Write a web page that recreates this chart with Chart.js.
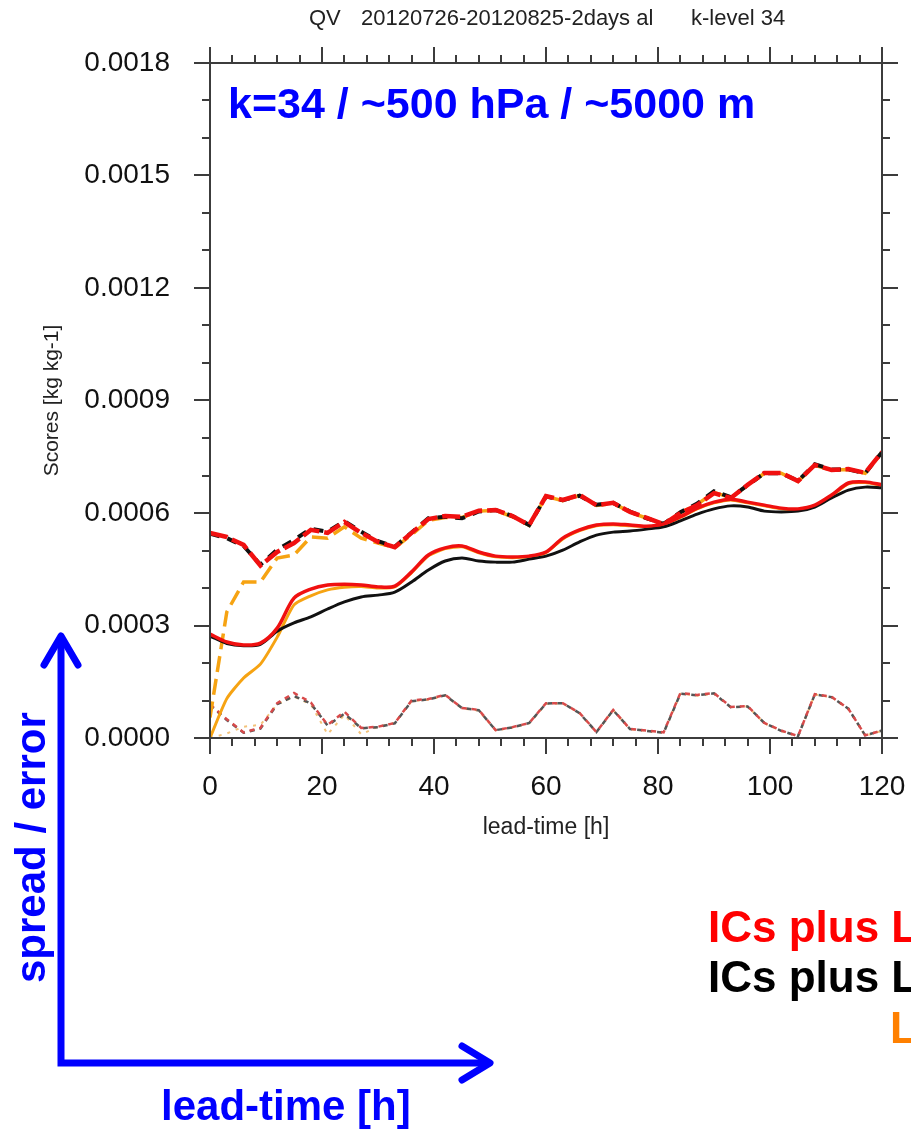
<!DOCTYPE html>
<html>
<head>
<meta charset="utf-8">
<title>QV scores k-level 34</title>
<script src="https://cdn.jsdelivr.net/npm/chart.js@4.4.1/dist/chart.umd.min.js"></script>
<style>
  html, body { margin: 0; padding: 0; background: #fff; }
  body { width: 911px; height: 1133px; overflow: hidden; position: relative; font-family: "Liberation Sans", Arial, sans-serif; }
  #scores { position: absolute; left: 0; top: 0; }
  .txt { position: absolute; white-space: nowrap; line-height: 1; }
  .head { font-size: 22px; color: #222; top: 7px; }
  .blue { color: #0000ff; font-weight: bold; font-size: 42px; }
  .legend { font-weight: bold; font-size: 44px; }
</style>
</head>
<body>
<canvas id="scores" width="911" height="1133"></canvas>

<div class="txt head" style="left:309px">QV</div>
<div class="txt head" style="left:361px">20120726-20120825-2days al</div>
<div class="txt head" style="left:691px">k-level 34</div>

<div class="txt blue" style="left:228px; top:82px; font-size:43px">k=34 / ~500 hPa / ~5000 m</div>
<div class="txt blue" style="left:161px; top:1085px">lead-time [h]</div>
<div class="txt blue" style="left:10px; top:983px; transform-origin:0 0; transform:rotate(-90deg)">spread / error</div>

<div class="txt legend" style="left:708px; top:905px; color:#ff0000">ICs plus L</div>
<div class="txt legend" style="left:708px; top:955px; color:#000">ICs plus L</div>
<div class="txt legend" style="left:890px; top:1006px; color:#ff8000">L</div>

<script>
// lead times in hours
const leadTimes = [0, 3, 6, 9, 12, 15, 18, 21, 24, 27, 30, 33, 36, 39, 42, 45, 48, 51, 54, 57, 60,
  63, 66, 69, 72, 75, 78, 81, 84, 87, 90, 93, 96, 99, 102, 105, 108, 111, 114, 117, 120];

// error (long dashed)
const errorRed = [5.47e-4, 5.36e-4, 5.15e-4, 4.60e-4, 4.96e-4, 5.20e-4, 5.55e-4, 5.47e-4, 5.76e-4, 5.47e-4,
  5.23e-4, 5.09e-4, 5.47e-4, 5.84e-4, 5.92e-4, 5.90e-4, 6.06e-4, 6.08e-4, 5.92e-4, 5.68e-4, 6.45e-4,
  6.35e-4, 6.48e-4, 6.21e-4, 6.27e-4, 6.03e-4, 5.87e-4, 5.70e-4, 6.00e-4, 6.21e-4, 6.53e-4, 6.40e-4,
  6.75e-4, 7.07e-4, 7.07e-4, 6.85e-4, 7.28e-4, 7.15e-4, 7.17e-4, 7.07e-4, 7.63e-4];
const errorBlack = [5.45e-4, 5.33e-4, 5.12e-4, 4.62e-4, 5.02e-4, 5.28e-4, 5.58e-4, 5.50e-4, 5.78e-4, 5.50e-4,
  5.25e-4, 5.10e-4, 5.48e-4, 5.86e-4, 5.90e-4, 5.86e-4, 6.04e-4, 6.08e-4, 5.92e-4, 5.68e-4, 6.44e-4,
  6.34e-4, 6.46e-4, 6.22e-4, 6.27e-4, 6.04e-4, 5.86e-4, 5.71e-4, 6.02e-4, 6.25e-4, 6.58e-4, 6.42e-4,
  6.74e-4, 7.06e-4, 7.06e-4, 6.86e-4, 7.30e-4, 7.16e-4, 7.16e-4, 7.06e-4, 7.62e-4];
const errorOrange = [0.55e-4, 3.36e-4, 4.16e-4, 4.16e-4, 4.80e-4, 4.88e-4, 5.36e-4, 5.33e-4, 5.63e-4, 5.33e-4,
  5.20e-4, 5.07e-4, 5.42e-4, 5.80e-4, 5.88e-4, 5.88e-4, 6.05e-4, 6.07e-4, 5.90e-4, 5.67e-4, 6.44e-4,
  6.33e-4, 6.47e-4, 6.20e-4, 6.26e-4, 6.02e-4, 5.86e-4, 5.70e-4, 6.01e-4, 6.23e-4, 6.55e-4, 6.41e-4,
  6.74e-4, 7.06e-4, 7.06e-4, 6.84e-4, 7.27e-4, 7.14e-4, 7.16e-4, 7.06e-4, 7.62e-4];

// spread (solid)
const spreadRed = [2.77e-4, 2.56e-4, 2.48e-4, 2.53e-4, 2.93e-4, 3.73e-4, 3.97e-4, 4.08e-4, 4.10e-4, 4.08e-4,
  4.03e-4, 4.05e-4, 4.43e-4, 4.88e-4, 5.07e-4, 5.12e-4, 4.96e-4, 4.85e-4, 4.83e-4, 4.85e-4, 4.96e-4,
  5.33e-4, 5.55e-4, 5.68e-4, 5.71e-4, 5.68e-4, 5.65e-4, 5.71e-4, 5.90e-4, 6.13e-4, 6.29e-4, 6.37e-4,
  6.29e-4, 6.21e-4, 6.13e-4, 6.11e-4, 6.21e-4, 6.48e-4, 6.80e-4, 6.83e-4, 6.75e-4];
const spreadBlack = [2.72e-4, 2.52e-4, 2.46e-4, 2.50e-4, 2.85e-4, 3.07e-4, 3.23e-4, 3.44e-4, 3.63e-4, 3.76e-4,
  3.81e-4, 3.89e-4, 4.16e-4, 4.48e-4, 4.72e-4, 4.80e-4, 4.72e-4, 4.69e-4, 4.69e-4, 4.77e-4, 4.85e-4,
  5.01e-4, 5.23e-4, 5.41e-4, 5.49e-4, 5.52e-4, 5.57e-4, 5.63e-4, 5.79e-4, 5.97e-4, 6.11e-4, 6.19e-4,
  6.16e-4, 6.05e-4, 6.03e-4, 6.05e-4, 6.16e-4, 6.40e-4, 6.61e-4, 6.69e-4, 6.67e-4];
const spreadOrange = [0, 1.05e-4, 1.60e-4, 1.97e-4, 2.69e-4, 3.55e-4, 3.79e-4, 3.95e-4, 4.02e-4, 4.04e-4,
  4.00e-4, 4.03e-4, 4.41e-4, 4.86e-4, 5.05e-4, 5.10e-4, 4.94e-4, 4.83e-4, 4.81e-4, 4.83e-4, 4.94e-4,
  5.31e-4, 5.53e-4, 5.66e-4, 5.69e-4, 5.66e-4, 5.63e-4, 5.69e-4, 5.88e-4, 6.11e-4, 6.27e-4, 6.35e-4,
  6.27e-4, 6.19e-4, 6.11e-4, 6.09e-4, 6.19e-4, 6.46e-4, 6.78e-4, 6.81e-4, 6.73e-4];

// bias (short dashed)
const biasRed = [0.90e-4, 0.50e-4, 0.15e-4, 0.27e-4, 0.93e-4, 1.20e-4, 0.95e-4, 0.35e-4, 0.70e-4, 0.27e-4,
  0.30e-4, 0.40e-4, 1.00e-4, 1.04e-4, 1.15e-4, 0.80e-4, 0.75e-4, 0.21e-4, 0.29e-4, 0.40e-4, 0.93e-4,
  0.93e-4, 0.67e-4, 0.16e-4, 0.75e-4, 0.24e-4, 0.20e-4, 0.15e-4, 1.20e-4, 1.15e-4, 1.20e-4, 0.83e-4,
  0.85e-4, 0.40e-4, 0.20e-4, 0.05e-4, 1.17e-4, 1.10e-4, 0.78e-4, 0.07e-4, 0.20e-4];
const biasBlack = [0.88e-4, 0.48e-4, 0.14e-4, 0.25e-4, 0.90e-4, 1.12e-4, 0.92e-4, 0.33e-4, 0.65e-4, 0.26e-4,
  0.29e-4, 0.39e-4, 0.98e-4, 1.03e-4, 1.14e-4, 0.80e-4, 0.74e-4, 0.21e-4, 0.28e-4, 0.40e-4, 0.92e-4,
  0.93e-4, 0.66e-4, 0.16e-4, 0.74e-4, 0.24e-4, 0.19e-4, 0.14e-4, 1.18e-4, 1.14e-4, 1.19e-4, 0.82e-4,
  0.84e-4, 0.40e-4, 0.19e-4, 0.05e-4, 1.16e-4, 1.09e-4, 0.78e-4, 0.07e-4, 0.20e-4];
const biasOrange = [0, 0.12e-4, 0.30e-4, 0.35e-4, 0.90e-4, 1.10e-4, 0.90e-4, 0.10e-4, 0.62e-4, 0.10e-4,
  0.30e-4, 0.40e-4, 0.98e-4, 1.02e-4, 1.13e-4, 0.79e-4, 0.73e-4, 0.20e-4, 0.28e-4, 0.39e-4, 0.91e-4,
  0.92e-4, 0.66e-4, 0.15e-4, 0.74e-4, 0.23e-4, 0.19e-4, 0.14e-4, 1.18e-4, 1.13e-4, 1.18e-4, 0.82e-4,
  0.84e-4, 0.39e-4, 0.19e-4, 0.04e-4, 1.16e-4, 1.09e-4, 0.77e-4, 0.06e-4, 0.19e-4];

const xTicks = [0, 20, 40, 60, 80, 100, 120];
const yTicks = [0, 0.0003, 0.0006, 0.0009, 0.0012, 0.0015, 0.0018];

const RED = '#f01010', BLACK = '#111111', ORANGE = '#f6a312';

function pts(values) {
  return values.map((v, i) => ({x: leadTimes[i], y: v}));
}
function line(values, color, width, dash, order, tension) {
  return {
    data: pts(values),
    borderColor: color,
    borderWidth: width,
    borderDash: dash,
    pointRadius: 0,
    tension: tension || 0,
    fill: false,
    order: order
  };
}

// box with outward major / minor ticks on all four sides
const frame = {
  id: 'frame',
  afterDatasetsDraw(chart) {
    const {ctx, chartArea: a, scales: {x, y}} = chart;
    ctx.save();
    ctx.strokeStyle = '#3c3c3c';
    ctx.lineWidth = 2;
    ctx.strokeRect(a.left, a.top, a.right - a.left, a.bottom - a.top);
    ctx.beginPath();
    for (let h = 0; h <= 120; h += 4) {
      const px = Math.round(x.getPixelForValue(h));
      const len = h % 20 === 0 ? 16 : 8;
      ctx.moveTo(px, a.bottom); ctx.lineTo(px, a.bottom + len);
      ctx.moveTo(px, a.top); ctx.lineTo(px, a.top - len);
    }
    for (let k = 0; k <= 18; k++) {
      const py = Math.round(y.getPixelForValue(k * 0.0001));
      const len = k % 3 === 0 ? 16 : 8;
      ctx.moveTo(a.left, py); ctx.lineTo(a.left - len, py);
      ctx.moveTo(a.right, py); ctx.lineTo(a.right + len, py);
    }
    ctx.stroke();
    ctx.restore();
  }
};

// blue spread/error and lead-time arrows under the plot
const arrows = {
  id: 'arrows',
  afterDraw(chart) {
    const ctx = chart.ctx;
    ctx.save();
    ctx.strokeStyle = '#0000ff';
    ctx.lineWidth = 7;
    ctx.lineCap = 'butt';
    ctx.lineJoin = 'miter';
    ctx.beginPath();
    ctx.moveTo(61, 636);
    ctx.lineTo(61, 1063);
    ctx.lineTo(490, 1063);
    ctx.stroke();
    ctx.lineCap = 'round';
    ctx.lineJoin = 'round';
    ctx.beginPath();
    ctx.moveTo(44, 665); ctx.lineTo(61, 636); ctx.lineTo(78, 665);
    ctx.moveTo(462, 1046); ctx.lineTo(490, 1063); ctx.lineTo(462, 1080);
    ctx.stroke();
    ctx.restore();
  }
};

const tickFont = {family: '"Liberation Sans", Arial, sans-serif', size: 28};

new Chart(document.getElementById('scores'), {
  type: 'line',
  data: {
    datasets: [
      line(spreadRed, RED, 3.5, [], 1, 0.3),
      line(spreadBlack, BLACK, 3, [], 2, 0.3),
      line(spreadOrange, ORANGE, 3, [], 3, 0.2),
      line(errorRed, RED, 4.5, [18, 5], 4),
      line(errorBlack, BLACK, 4, [10, 8], 5),
      line(errorOrange, ORANGE, 3.5, [16, 7], 6),
      line(biasRed, '#d84a4a', 2.5, [5, 5], 7),
      line(biasBlack, '#555555', 2.5, [5, 5], 8),
      line(biasOrange, '#f3c27a', 2, [3, 6], 9)
    ]
  },
  options: {
    responsive: false,
    animation: false,
    devicePixelRatio: 1,
    layout: {padding: {left: 0, top: 63, right: 29, bottom: 285}},
    plugins: {legend: {display: false}, tooltip: {enabled: false}},
    scales: {
      x: {
        type: 'linear',
        min: 0,
        max: 120,
        afterFit: (s) => { s.height = 110; s.paddingLeft = 0; s.paddingRight = 0; },
        afterBuildTicks: (s) => { s.ticks = xTicks.map(v => ({value: v})); },
        grid: {display: false, drawTicks: false},
        border: {display: false},
        ticks: {font: tickFont, color: '#111', padding: 32, maxRotation: 0},
        title: {display: true, text: 'lead-time [h]', font: {family: '"Liberation Sans", Arial, sans-serif', size: 23}, color: '#222', padding: {top: 0, bottom: 7}}
      },
      y: {
        type: 'linear',
        min: 0,
        max: 0.0018,
        afterFit: (s) => { s.width = 210; s.paddingTop = 0; s.paddingBottom = 0; },
        afterBuildTicks: (s) => { s.ticks = yTicks.map(v => ({value: v})); },
        grid: {display: false, drawTicks: false},
        border: {display: false},
        ticks: {font: tickFont, color: '#111', padding: 40, callback: (v) => Number(v).toFixed(4)},
        title: {display: true, text: 'Scores [kg kg-1]', font: {family: '"Liberation Sans", Arial, sans-serif', size: 21}, color: '#222', padding: {top: 40, bottom: 0}}
      }
    }
  },
  plugins: [frame, arrows]
});
</script>
</body>
</html>
